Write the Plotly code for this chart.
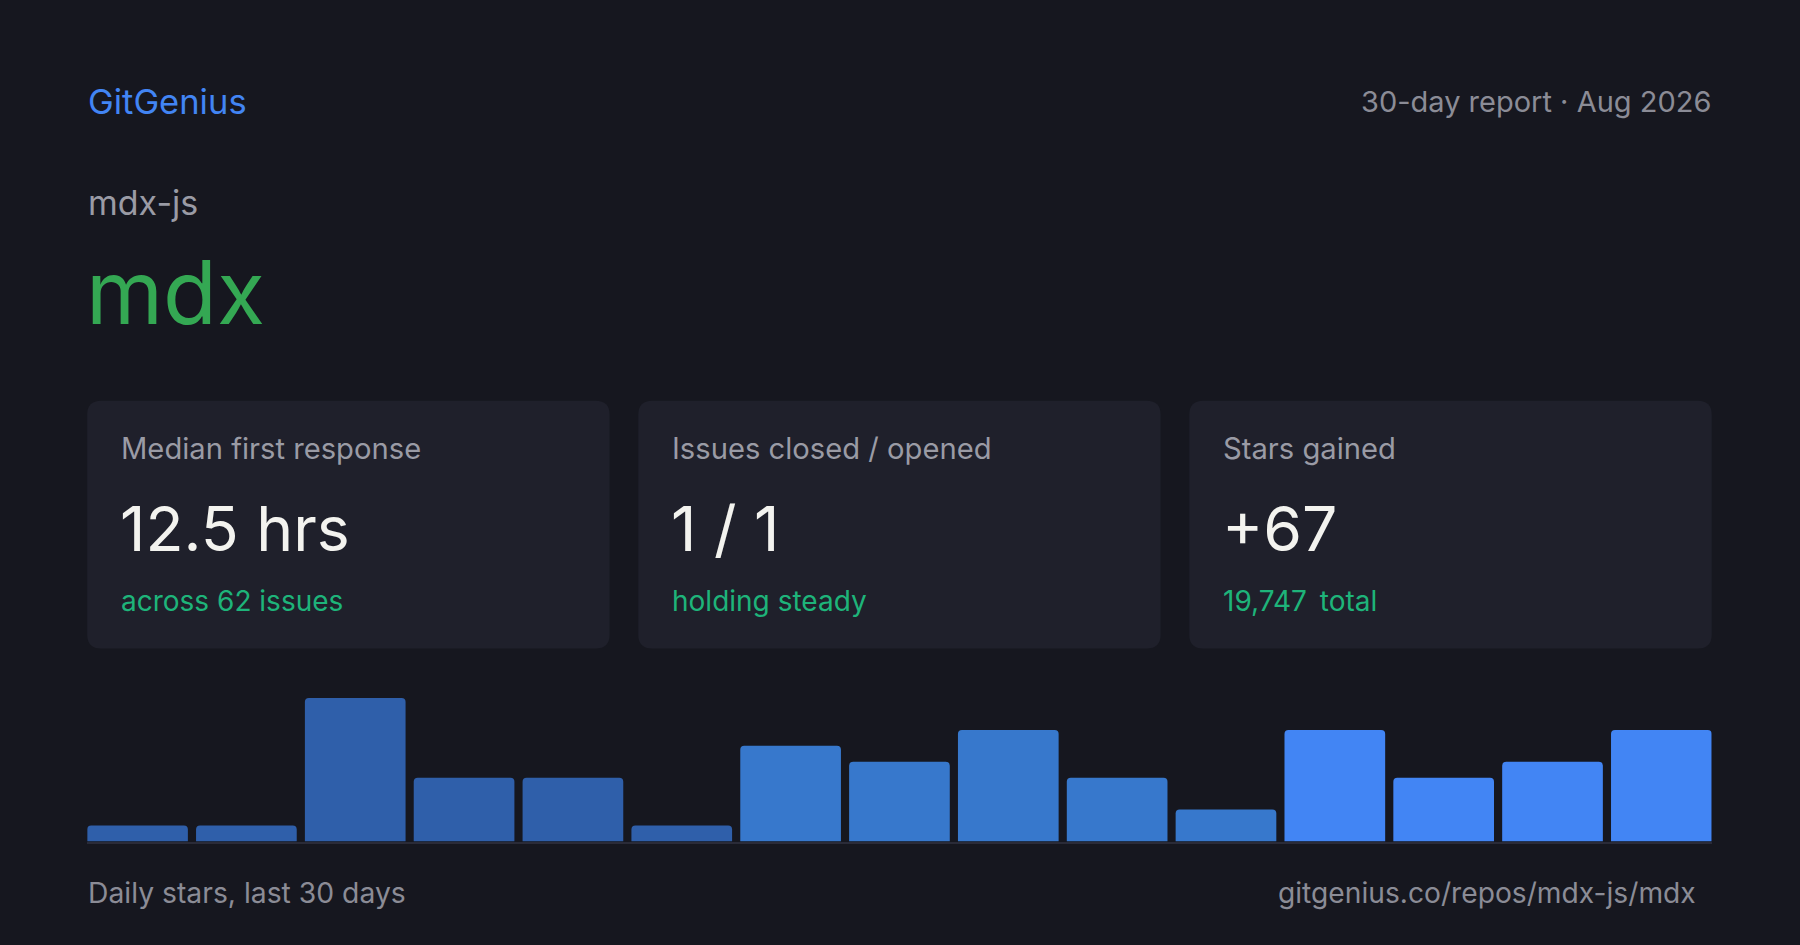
import plotly.graph_objects as go

W, H = 1800, 945

# ---------------- data ----------------
brand = "GitGenius"
report_label = "30-day report · Aug 2026"
owner = "mdx-js"
repo = "mdx"
card_labels = ["Median first response", "Issues closed / opened", "Stars gained"]
card_values = ["12.5 hrs", "1 / 1", "+67"]
card_subs = ["across 62 issues", "holding steady", "19,747\u2009 total"]
bin_labels = ["Days 1-2", "Days 3-4", "Days 5-6", "Days 7-8", "Days 9-10",
              "Days 11-12", "Days 13-14", "Days 15-16", "Days 17-18",
              "Days 19-20", "Days 21-22", "Days 23-24", "Days 25-26",
              "Days 27-28", "Days 29-30"]
daily_stars = [1, 1, 9, 4, 4, 1, 6, 5, 7, 4, 2, 7, 4, 5, 7]
footer_left = "Daily stars, last 30 days"
footer_right = "gitgenius.co/repos/mdx-js/mdx"

# ---------------- style ----------------
BG = "#16171f"
CARD = "#1f202b"
GRAY = "#8b8c96"
LABEL = "#9a9ba5"
WHITE = "#f3f3ef"
SUBGREEN = "#1eb47a"
BIGGREEN = "#34a853"
BLUE = "#4285f4"
FONT = "Inter"
bar_colors = ["#2f5faa"] * 6 + ["#3778cc"] * 5 + ["#4285f4"] * 4
GAP = 0.075


def px(x):
    return x / W


def py(y):
    return 1 - y / H


fig = go.Figure()
fig.add_trace(go.Bar(
    x=bin_labels, y=daily_stars,
    marker=dict(color=bar_colors, line=dict(width=0), cornerradius=4),
    hoverinfo="skip",
))

# chart area
x0, x1 = 87.2, 1711.7
y_base, y_top = 841.5, 698.0

n = len(daily_stars)
fig.update_layout(
    width=W, height=H,
    margin=dict(l=0, r=0, t=0, b=0),
    paper_bgcolor=BG, plot_bgcolor=BG,
    showlegend=False,
    bargap=GAP,
    font=dict(family=FONT, color=GRAY),
    xaxis=dict(type="category", domain=[px(x0), px(x1)],
               range=[-0.5 + GAP / 2, n - 0.5 - GAP / 2], showgrid=False,
               zeroline=False, showticklabels=False, ticks="", showline=True,
               linecolor="#2a2b38", linewidth=2, fixedrange=True),
    yaxis=dict(domain=[py(y_base), py(y_top)], range=[0, max(daily_stars)],
               showgrid=False, zeroline=False, showticklabels=False,
               showline=False, fixedrange=True),
)

shapes = []
card_x = [(87.2, 609.6), (638.3, 1160.6), (1189.3, 1711.7)]
cy0, cy1 = 400.7, 648.6
r = 14
for (a, b) in card_x:
    path = (
        f"M {px(a + r)} {py(cy0)} L {px(b - r)} {py(cy0)} "
        f"Q {px(b)} {py(cy0)} {px(b)} {py(cy0 + r)} "
        f"L {px(b)} {py(cy1 - r)} Q {px(b)} {py(cy1)} {px(b - r)} {py(cy1)} "
        f"L {px(a + r)} {py(cy1)} Q {px(a)} {py(cy1)} {px(a)} {py(cy1 - r)} "
        f"L {px(a)} {py(cy0 + r)} Q {px(a)} {py(cy0)} {px(a + r)} {py(cy0)} Z"
    )
    shapes.append(dict(type="path", path=path, xref="paper", yref="paper",
                       fillcolor=CARD, line=dict(width=0), layer="below"))
fig.update_layout(shapes=shapes)

ann = []


def text(x, y, s, size, color, anchor="left"):
    ann.append(dict(x=px(x), y=py(y), xref="paper", yref="paper", text=s,
                    showarrow=False, xanchor=anchor, yanchor="middle",
                    font=dict(family=FONT, size=size, color=color)))


text(86, 101, brand, 34.5, BLUE)
text(1713, 101, report_label, 29, GRAY, "right")
text(86, 203, owner, 34, LABEL)
text(84, 292, repo, 88, BIGGREEN)
for i, (a, b) in enumerate(card_x):
    text(a + 32, 449, card_labels[i], 29.2, LABEL)
    text(a + 31, 528, card_values[i], 62.5, WHITE)
    text(a + 32, 601, card_subs[i], 28, SUBGREEN)
text(86, 893, footer_left, 28.3, GRAY)
text(1698, 893, footer_right, 28.2, GRAY, "right")
fig.update_layout(annotations=ann)

fig.write_html("out.html", config={"displayModeBar": False, "staticPlot": True},
               post_script="document.body.style.margin='0';document.body.style.background='" + BG + "';")
